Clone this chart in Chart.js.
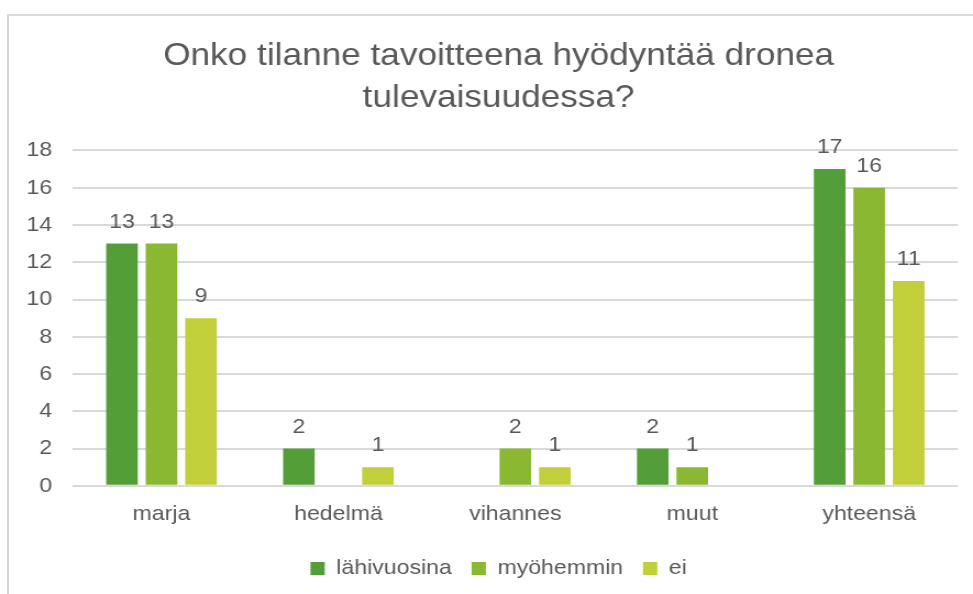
<!DOCTYPE html>
<html><head><meta charset="utf-8">
<script src="https://cdn.jsdelivr.net/npm/chart.js@4/dist/chart.umd.min.js"></script>
<style>
html,body{margin:0;padding:0;background:#fff;overflow:hidden;width:973px;height:594px;}
#frame{position:absolute;left:7px;top:14px;width:1100px;height:700px;border:2px solid #d9d9d9;}
#wrap{position:absolute;left:0;top:0;width:885px;height:620px;transform:scaleX(1.0995);transform-origin:0 0;}
</style></head><body>
<div id="frame"></div>
<div id="wrap"><canvas id="c" width="885" height="620"></canvas></div>
<script>
const categories = ['marja', 'hedelmä', 'vihannes', 'muut', 'yhteensä'];
const seriesNames = ['lähivuosina', 'myöhemmin', 'ei'];
const lahivuosina = [13, 2, 0, 2, 17];
const myohemmin = [13, 0, 2, 1, 16];
const ei = [9, 1, 1, 0, 11];
const yTicks = [0, 2, 4, 6, 8, 10, 12, 14, 16, 18];
const titleLines = ['Onko tilanne tavoitteena hyödyntää dronea', 'tulevaisuudessa?'];
const colors = ['#549E39', '#8AB833', '#C0CF3A'];

const FONT = '"Liberation Sans", Arial, sans-serif';
const TEXT = '#595959';

const valueLabels = {
  id: 'valueLabels',
  afterDatasetsDraw(chart) {
    const ctx = chart.ctx;
    ctx.save();
    ctx.font = '21px ' + FONT;
    ctx.fillStyle = TEXT;
    ctx.textAlign = 'center';
    ctx.textBaseline = 'alphabetic';
    chart.data.datasets.forEach((ds, i) => {
      const meta = chart.getDatasetMeta(i);
      meta.data.forEach((bar, j) => {
        const v = ds.data[j];
        if (!v) return;
        ctx.fillText(String(v), bar.x, bar.y - 16);
      });
    });
    ctx.restore();
  }
};

const seriesData = [lahivuosina, myohemmin, ei];

new Chart(document.getElementById('c'), {
  type: 'bar',
  data: {
    labels: categories,
    datasets: seriesNames.map((n, i) => ({
      label: n,
      data: seriesData[i],
      backgroundColor: colors[i],
      borderWidth: 0,
      categoryPercentage: 0.67,
      barPercentage: 0.8
    }))
  },
  options: {
    responsive: false,
    animation: false,
    devicePixelRatio: 1,
    layout: { padding: { left: 36, right: 14, top: 0, bottom: 31 } },
    plugins: {
      tooltip: { enabled: false },
      title: {
        display: true,
        text: titleLines,
        color: TEXT,
        font: { family: FONT, size: 32, weight: 'normal', lineHeight: 1.32 },
        padding: { top: 35, bottom: 31 }
      },
      legend: {
        position: 'bottom',
        labels: {
          boxWidth: 13, boxHeight: 13, color: TEXT,
          font: { family: FONT, size: 21 },
          padding: 18
        }
      }
    },
    scales: {
      x: {
        grid: { display: false },
        border: { display: false },
        ticks: { color: TEXT, font: { family: FONT, size: 21 }, padding: 8 },
        afterFit(s) { s.height += 5; }
      },
      y: {
        min: 0, max: 18,
        ticks: { color: TEXT, font: { family: FONT, size: 21 }, padding: 19 },
        afterBuildTicks(s) { s.ticks = yTicks.map(v => ({ value: v })); },
        grid: { color: '#d9d9d9', lineWidth: 2, drawTicks: false },
        border: { display: false },
        afterFit(s) { s.width = 30.4; s._computeLabelArea = () => undefined; }
      }
    }
  },
  plugins: [valueLabels]
});
</script>
</body></html>
